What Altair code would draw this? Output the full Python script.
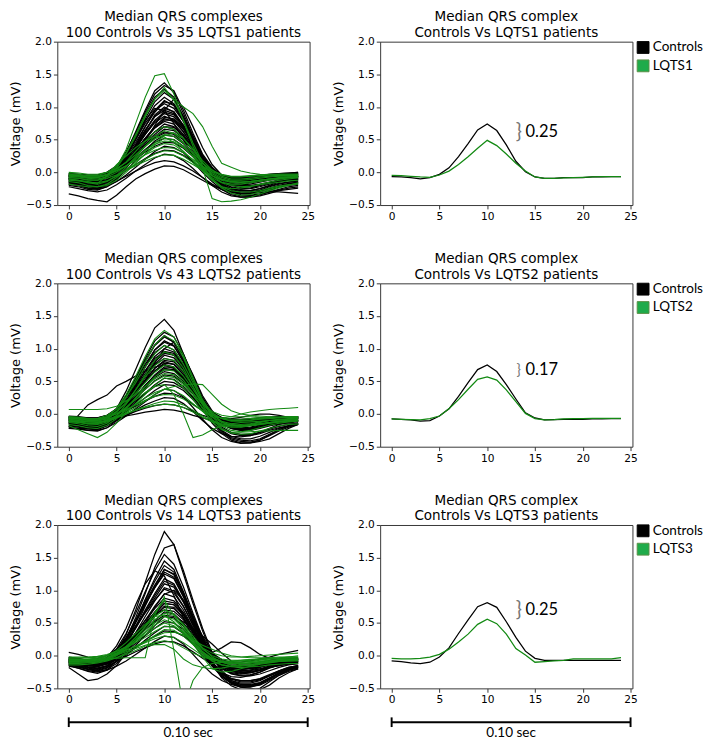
import altair as alt
import pandas as pd

# ---------------- data ----------------
x_vals = list(range(25))
x_ticks = [0, 5, 10, 15, 20, 25]
y_ticks = [-0.5, 0.0, 0.5, 1.0, 1.5, 2.0]

subtypes = ["LQTS1", "LQTS2", "LQTS3"]
n_controls = 100
n_patients = [35, 43, 14]
gap_labels = ["0.25", "0.17", "0.25"]
gap_mid_y = [0.61, 0.67, 0.69]
gap_x = [13.3, 13.3, 13.3]
scale_bar = [0, 25]
scale_label = "0.10 sec"

# individual median complexes, controls (LQTS1 comparison)
ctrl_lqts1 = [
    [-0.10,-0.12,-0.15,-0.14,-0.08,0.05,0.30,0.62,0.95,1.25,1.37,1.22,0.90,0.55,0.22,0.02,-0.08,-0.12,-0.12,-0.10,-0.08,-0.07,-0.06,-0.05,-0.05],
    [-0.05,-0.07,-0.10,-0.10,-0.05,0.08,0.32,0.60,0.92,1.20,1.33,1.25,0.95,0.60,0.28,0.08,-0.05,-0.10,-0.12,-0.12,-0.10,-0.08,-0.06,-0.04,-0.02],
    [-0.15,-0.18,-0.22,-0.22,-0.15,0.00,0.25,0.55,0.88,1.15,1.27,1.15,0.85,0.50,0.18,-0.05,-0.18,-0.25,-0.28,-0.28,-0.25,-0.20,-0.15,-0.12,-0.10],
    [-0.08,-0.10,-0.12,-0.12,-0.06,0.06,0.25,0.50,0.78,1.02,1.15,1.05,0.80,0.50,0.22,0.04,-0.08,-0.14,-0.16,-0.15,-0.12,-0.10,-0.08,-0.07,-0.06],
    [-0.12,-0.14,-0.18,-0.18,-0.12,-0.02,0.18,0.42,0.70,0.95,1.10,1.02,0.78,0.48,0.18,-0.02,-0.15,-0.22,-0.25,-0.24,-0.20,-0.16,-0.12,-0.10,-0.08],
    [-0.02,-0.03,-0.05,-0.05,0.00,0.10,0.28,0.50,0.75,0.95,1.05,0.98,0.78,0.50,0.24,0.06,-0.04,-0.08,-0.08,-0.07,-0.05,-0.03,-0.02,-0.01,0.00],
    [-0.18,-0.20,-0.24,-0.25,-0.20,-0.08,0.10,0.35,0.62,0.88,1.00,0.92,0.70,0.40,0.12,-0.08,-0.22,-0.30,-0.34,-0.35,-0.33,-0.28,-0.22,-0.18,-0.15],
    [-0.06,-0.08,-0.10,-0.10,-0.05,0.05,0.22,0.42,0.65,0.85,0.95,0.90,0.72,0.48,0.22,0.04,-0.06,-0.10,-0.11,-0.10,-0.08,-0.06,-0.05,-0.04,-0.03],
    [-0.10,-0.12,-0.15,-0.16,-0.12,-0.02,0.15,0.36,0.58,0.78,0.90,0.85,0.68,0.45,0.20,0.00,-0.12,-0.18,-0.20,-0.20,-0.18,-0.15,-0.12,-0.10,-0.09],
    [-0.04,-0.05,-0.08,-0.08,-0.03,0.06,0.20,0.38,0.58,0.76,0.86,0.80,0.62,0.40,0.18,0.02,-0.06,-0.10,-0.10,-0.09,-0.07,-0.05,-0.04,-0.03,-0.02],
    [-0.14,-0.16,-0.20,-0.20,-0.15,-0.05,0.12,0.32,0.52,0.70,0.82,0.78,0.62,0.40,0.16,-0.04,-0.18,-0.26,-0.30,-0.30,-0.27,-0.22,-0.18,-0.15,-0.13],
    [-0.08,-0.09,-0.12,-0.12,-0.08,0.02,0.16,0.34,0.52,0.68,0.78,0.74,0.58,0.38,0.16,0.00,-0.10,-0.15,-0.16,-0.15,-0.13,-0.10,-0.08,-0.07,-0.06],
    [-0.20,-0.22,-0.26,-0.27,-0.22,-0.10,0.06,0.25,0.45,0.62,0.74,0.70,0.55,0.34,0.12,-0.06,-0.20,-0.28,-0.32,-0.33,-0.30,-0.26,-0.22,-0.18,-0.16],
    [-0.03,-0.04,-0.06,-0.06,-0.02,0.06,0.18,0.32,0.48,0.62,0.70,0.66,0.52,0.34,0.15,0.03,-0.04,-0.07,-0.08,-0.07,-0.05,-0.04,-0.03,-0.02,-0.02],
    [-0.12,-0.13,-0.16,-0.16,-0.12,-0.04,0.08,0.24,0.40,0.55,0.66,0.64,0.52,0.34,0.14,-0.02,-0.14,-0.20,-0.23,-0.22,-0.20,-0.17,-0.14,-0.12,-0.11],
    [-0.06,-0.07,-0.09,-0.09,-0.05,0.03,0.14,0.28,0.42,0.55,0.62,0.58,0.46,0.30,0.12,0.00,-0.08,-0.12,-0.13,-0.12,-0.10,-0.08,-0.06,-0.05,-0.05],
    [-0.16,-0.18,-0.22,-0.24,-0.20,-0.10,0.03,0.18,0.34,0.48,0.57,0.55,0.44,0.28,0.08,-0.10,-0.24,-0.32,-0.36,-0.36,-0.34,-0.30,-0.26,-0.22,-0.20],
    [-0.09,-0.10,-0.12,-0.12,-0.08,0.00,0.10,0.22,0.35,0.46,0.52,0.50,0.40,0.26,0.10,-0.02,-0.10,-0.14,-0.15,-0.14,-0.12,-0.10,-0.09,-0.08,-0.07],
    [-0.05,-0.06,-0.08,-0.08,-0.05,0.02,0.10,0.20,0.31,0.40,0.46,0.45,0.37,0.24,0.10,0.00,-0.06,-0.09,-0.10,-0.09,-0.08,-0.06,-0.05,-0.04,-0.04],
    [-0.18,-0.20,-0.24,-0.26,-0.22,-0.14,-0.04,0.08,0.20,0.32,0.40,0.38,0.30,0.16,0.00,-0.14,-0.26,-0.34,-0.38,-0.38,-0.36,-0.32,-0.28,-0.26,-0.24],
    [-0.10,-0.11,-0.13,-0.14,-0.11,-0.05,0.03,0.12,0.21,0.29,0.34,0.33,0.26,0.16,0.04,-0.06,-0.14,-0.19,-0.21,-0.21,-0.19,-0.16,-0.14,-0.12,-0.11],
    [-0.22,-0.25,-0.28,-0.30,-0.27,-0.19,-0.09,0.02,0.12,0.22,0.28,0.26,0.18,0.06,-0.08,-0.20,-0.30,-0.36,-0.38,-0.37,-0.34,-0.30,-0.27,-0.24,-0.22],
    [-0.14,-0.16,-0.20,-0.22,-0.20,-0.14,-0.06,0.02,0.09,0.15,0.18,0.16,0.10,0.02,-0.08,-0.18,-0.26,-0.30,-0.32,-0.31,-0.28,-0.25,-0.22,-0.20,-0.18],
    [-0.33,-0.36,-0.40,-0.43,-0.45,-0.35,-0.22,-0.10,-0.02,0.05,0.10,0.09,0.04,-0.04,-0.12,-0.20,-0.26,-0.30,-0.32,-0.32,-0.31,-0.30,-0.30,-0.31,-0.32],
    [-0.05,-0.06,-0.08,-0.08,-0.05,0.02,0.12,0.28,0.48,0.72,0.95,1.12,1.00,0.70,0.38,0.12,-0.04,-0.12,-0.15,-0.14,-0.12,-0.10,-0.08,-0.06,-0.05],
    [-0.10,-0.11,-0.13,-0.12,-0.06,0.08,0.30,0.55,0.80,0.98,0.95,0.75,0.50,0.25,0.05,-0.08,-0.15,-0.18,-0.18,-0.16,-0.13,-0.10,-0.08,-0.07,-0.06],
    [-0.07,-0.08,-0.10,-0.10,-0.05,0.06,0.26,0.52,0.82,1.08,1.22,1.12,0.85,0.52,0.20,0.00,-0.10,-0.15,-0.16,-0.14,-0.12,-0.10,-0.08,-0.07,-0.06],
    [-0.11,-0.13,-0.16,-0.17,-0.12,-0.01,0.18,0.40,0.64,0.86,0.98,0.93,0.72,0.46,0.18,-0.03,-0.16,-0.23,-0.26,-0.25,-0.22,-0.18,-0.14,-0.12,-0.10],
    [-0.04,-0.05,-0.07,-0.07,-0.03,0.06,0.20,0.40,0.60,0.80,0.92,0.88,0.70,0.46,0.20,0.03,-0.06,-0.10,-0.10,-0.09,-0.07,-0.05,-0.04,-0.03,-0.03],
    [-0.09,-0.10,-0.13,-0.13,-0.09,0.01,0.15,0.33,0.52,0.70,0.84,0.82,0.66,0.44,0.20,0.01,-0.11,-0.17,-0.19,-0.18,-0.15,-0.12,-0.10,-0.09,-0.08],
    [-0.13,-0.15,-0.18,-0.19,-0.15,-0.06,0.08,0.24,0.42,0.58,0.70,0.69,0.56,0.36,0.14,-0.05,-0.18,-0.25,-0.28,-0.28,-0.25,-0.21,-0.17,-0.15,-0.13],
    [-0.06,-0.07,-0.09,-0.09,-0.06,0.02,0.12,0.26,0.40,0.53,0.60,0.60,0.50,0.34,0.15,0.01,-0.08,-0.12,-0.13,-0.12,-0.10,-0.08,-0.07,-0.06,-0.06],
    [-0.02,-0.03,-0.04,-0.04,0.00,0.08,0.24,0.46,0.70,0.92,1.08,1.04,0.84,0.56,0.26,0.06,-0.04,-0.07,-0.07,-0.06,-0.04,-0.03,-0.02,-0.01,0.00],
    [-0.16,-0.18,-0.21,-0.22,-0.17,-0.06,0.10,0.30,0.50,0.68,0.80,0.80,0.66,0.44,0.18,-0.04,-0.20,-0.28,-0.32,-0.32,-0.29,-0.24,-0.20,-0.17,-0.15],
]
pat_lqts1 = [
    [-0.05,-0.06,-0.08,-0.08,-0.04,0.08,0.35,0.75,1.15,1.48,1.51,1.20,0.78,0.40,0.10,-0.10,-0.22,-0.25,-0.24,-0.22,-0.18,-0.15,-0.12,-0.10,-0.08],
    [-0.02,-0.03,-0.05,-0.05,0.00,0.10,0.30,0.58,0.88,1.12,1.25,1.12,1.00,0.90,0.70,0.40,0.14,0.08,0.02,-0.01,-0.03,-0.04,-0.05,-0.06,-0.06],
    [-0.08,-0.09,-0.12,-0.12,-0.06,0.06,0.28,0.55,0.85,1.12,1.30,1.10,0.80,0.45,0.15,-0.05,-0.15,-0.18,-0.18,-0.16,-0.14,-0.12,-0.10,-0.08,-0.07],
    [-0.05,-0.06,-0.08,-0.08,-0.04,0.04,0.16,0.32,0.48,0.62,0.70,0.66,0.52,0.34,0.14,0.00,-0.08,-0.12,-0.12,-0.11,-0.09,-0.07,-0.06,-0.05,-0.04],
    [-0.10,-0.12,-0.16,-0.18,-0.14,-0.05,0.08,0.24,0.40,0.55,0.64,0.60,0.46,0.28,0.08,-0.10,-0.24,-0.32,-0.35,-0.34,-0.30,-0.26,-0.22,-0.19,-0.17],
    [0.00,-0.01,-0.03,-0.03,0.00,0.06,0.15,0.27,0.40,0.51,0.58,0.55,0.45,0.30,0.14,0.03,-0.03,-0.06,-0.06,-0.05,-0.04,-0.03,-0.03,-0.03,-0.03],
    [-0.14,-0.16,-0.20,-0.22,-0.20,-0.12,0.00,0.14,0.28,0.42,0.52,0.50,0.40,0.24,0.06,-0.40,-0.45,-0.44,-0.42,-0.38,-0.33,-0.28,-0.24,-0.20,-0.16],
    [-0.06,-0.07,-0.09,-0.10,-0.07,0.00,0.10,0.22,0.34,0.43,0.48,0.47,0.38,0.25,0.10,-0.02,-0.10,-0.14,-0.15,-0.14,-0.12,-0.10,-0.08,-0.07,-0.06],
    [-0.18,-0.20,-0.22,-0.22,-0.18,-0.08,0.04,0.16,0.28,0.38,0.44,0.42,0.32,0.18,0.02,-0.12,-0.22,-0.28,-0.30,-0.30,-0.28,-0.24,-0.21,-0.19,-0.18],
    [-0.03,-0.04,-0.06,-0.06,-0.03,0.03,0.10,0.18,0.27,0.34,0.38,0.37,0.30,0.20,0.09,0.01,-0.04,-0.07,-0.07,-0.06,-0.05,-0.04,-0.03,-0.03,-0.03],
    [-0.12,-0.13,-0.15,-0.16,-0.13,-0.06,0.03,0.12,0.20,0.28,0.33,0.32,0.25,0.15,0.03,-0.08,-0.16,-0.20,-0.22,-0.21,-0.19,-0.17,-0.15,-0.13,-0.12],
    [-0.08,-0.09,-0.11,-0.12,-0.09,-0.04,0.03,0.10,0.17,0.23,0.27,0.26,0.20,0.12,0.03,-0.05,-0.11,-0.14,-0.15,-0.14,-0.12,-0.10,-0.09,-0.08,-0.08],
    [-0.10,-0.12,-0.14,-0.17,-0.05,0.12,0.25,0.38,0.48,0.55,0.54,0.46,0.32,0.18,0.05,-0.05,-0.12,-0.15,-0.15,-0.14,-0.12,-0.10,-0.09,-0.08,-0.07],
    [-0.04,-0.05,-0.07,-0.07,-0.04,0.02,0.10,0.20,0.32,0.45,0.56,0.60,0.52,0.36,0.18,0.04,-0.06,-0.10,-0.10,-0.09,-0.07,-0.06,-0.05,-0.05,-0.05],
]

ctrl_lqts2 = [
    [-0.08,-0.10,-0.12,-0.12,-0.06,0.08,0.35,0.68,1.02,1.32,1.45,1.28,0.92,0.55,0.22,0.00,-0.12,-0.18,-0.19,-0.17,-0.14,-0.11,-0.09,-0.07,-0.06],
    [-0.12,-0.14,-0.17,-0.17,-0.10,0.04,0.27,0.55,0.85,1.12,1.25,1.18,0.92,0.58,0.25,0.02,-0.14,-0.22,-0.25,-0.24,-0.20,-0.16,-0.13,-0.11,-0.10],
    [-0.05,-0.06,-0.08,-0.08,-0.03,0.08,0.28,0.54,0.82,1.06,1.20,1.10,0.82,0.50,0.20,0.02,-0.08,-0.12,-0.13,-0.12,-0.10,-0.08,-0.06,-0.05,-0.05],
    [-0.15,-0.17,-0.20,-0.21,-0.15,-0.02,0.18,0.44,0.72,0.98,1.12,1.05,0.80,0.48,0.15,-0.08,-0.25,-0.34,-0.38,-0.38,-0.34,-0.28,-0.22,-0.18,-0.15],
    [-0.08,-0.09,-0.11,-0.11,-0.06,0.05,0.24,0.47,0.72,0.94,1.05,0.98,0.76,0.48,0.20,0.02,-0.09,-0.14,-0.15,-0.14,-0.12,-0.10,-0.08,-0.07,-0.06],
    [-0.10,-0.12,-0.15,-0.15,-0.10,0.02,0.20,0.42,0.66,0.88,1.00,0.95,0.75,0.48,0.20,0.00,-0.14,-0.22,-0.25,-0.25,-0.22,-0.18,-0.15,-0.13,-0.12],
    [-0.04,-0.05,-0.07,-0.07,-0.03,0.07,0.24,0.44,0.66,0.85,0.95,0.90,0.70,0.45,0.20,0.03,-0.06,-0.10,-0.10,-0.09,-0.07,-0.06,-0.05,-0.04,-0.04],
    [-0.18,-0.20,-0.23,-0.24,-0.18,-0.06,0.12,0.34,0.56,0.76,0.90,0.86,0.68,0.42,0.14,-0.10,-0.28,-0.38,-0.42,-0.43,-0.40,-0.33,-0.26,-0.20,-0.16],
    [-0.07,-0.08,-0.10,-0.10,-0.06,0.04,0.20,0.38,0.58,0.75,0.85,0.82,0.65,0.42,0.18,0.01,-0.09,-0.13,-0.14,-0.13,-0.11,-0.09,-0.08,-0.07,-0.06],
    [-0.12,-0.14,-0.17,-0.18,-0.13,-0.03,0.13,0.32,0.52,0.70,0.80,0.76,0.60,0.38,0.14,-0.04,-0.16,-0.22,-0.24,-0.23,-0.20,-0.17,-0.14,-0.12,-0.11],
    [-0.03,-0.04,-0.06,-0.06,-0.02,0.06,0.18,0.34,0.50,0.66,0.76,0.72,0.57,0.37,0.16,0.02,-0.05,-0.08,-0.08,-0.07,-0.06,-0.05,-0.04,-0.04,-0.04],
    [-0.20,-0.22,-0.25,-0.26,-0.21,-0.10,0.05,0.22,0.40,0.58,0.70,0.68,0.54,0.32,0.08,-0.14,-0.30,-0.40,-0.44,-0.44,-0.40,-0.32,-0.24,-0.18,-0.14],
    [-0.09,-0.10,-0.12,-0.12,-0.08,0.00,0.12,0.27,0.42,0.56,0.65,0.62,0.50,0.32,0.12,-0.02,-0.11,-0.15,-0.16,-0.15,-0.13,-0.11,-0.09,-0.08,-0.08],
    [-0.06,-0.07,-0.09,-0.09,-0.05,0.02,0.12,0.25,0.38,0.51,0.60,0.58,0.47,0.31,0.13,0.00,-0.08,-0.12,-0.12,-0.11,-0.09,-0.07,-0.06,-0.06,-0.05],
    [-0.20,-0.02,0.14,0.22,0.29,0.43,0.50,0.58,0.66,0.72,0.75,0.70,0.55,0.35,0.14,0.00,-0.08,-0.12,-0.13,-0.12,-0.10,-0.09,-0.08,-0.07,-0.07],
    [-0.14,-0.16,-0.19,-0.20,-0.16,-0.07,0.05,0.18,0.32,0.45,0.55,0.53,0.42,0.26,0.07,-0.10,-0.22,-0.30,-0.33,-0.33,-0.30,-0.25,-0.21,-0.18,-0.16],
    [-0.05,-0.06,-0.08,-0.08,-0.05,0.01,0.10,0.20,0.31,0.42,0.50,0.48,0.39,0.25,0.10,0.00,-0.07,-0.10,-0.11,-0.10,-0.08,-0.07,-0.06,-0.05,-0.05],
    [-0.10,-0.11,-0.13,-0.14,-0.11,-0.05,0.04,0.14,0.25,0.36,0.45,0.44,0.36,0.22,0.06,-0.07,-0.16,-0.21,-0.23,-0.22,-0.20,-0.17,-0.14,-0.12,-0.11],
    [-0.22,-0.23,-0.25,-0.25,-0.21,-0.13,-0.03,0.08,0.19,0.30,0.38,0.36,0.26,0.10,-0.08,-0.24,-0.36,-0.42,-0.45,-0.44,-0.42,-0.38,-0.30,-0.22,-0.16],
    [-0.07,-0.08,-0.10,-0.10,-0.07,-0.02,0.05,0.12,0.20,0.27,0.32,0.31,0.25,0.15,0.05,-0.03,-0.09,-0.12,-0.13,-0.12,-0.11,-0.09,-0.08,-0.07,-0.07],
    [-0.13,-0.15,-0.18,-0.20,-0.17,-0.10,-0.02,0.06,0.14,0.20,0.25,0.24,0.16,0.04,-0.10,-0.22,-0.30,-0.34,-0.35,-0.33,-0.28,-0.22,-0.16,-0.12,-0.10],
    [-0.22,-0.22,-0.22,-0.20,-0.15,-0.08,-0.03,0.00,0.03,0.05,0.07,0.06,0.03,-0.02,-0.06,-0.10,-0.12,-0.14,-0.15,-0.16,-0.16,-0.16,-0.15,-0.15,-0.15],
    [-0.06,-0.07,-0.09,-0.09,-0.06,0.02,0.14,0.30,0.52,0.78,1.00,1.10,0.90,0.60,0.28,0.05,-0.10,-0.18,-0.21,-0.20,-0.17,-0.13,-0.10,-0.08,-0.07],
    [-0.15,-0.16,-0.18,-0.18,-0.14,-0.08,-0.02,0.04,0.09,0.13,0.15,0.14,0.10,0.04,-0.02,-0.06,-0.08,-0.07,-0.05,-0.02,0.00,0.00,-0.02,-0.05,-0.10],
    [-0.09,-0.10,-0.12,-0.12,-0.07,0.05,0.26,0.52,0.80,1.05,1.18,1.10,0.84,0.52,0.20,-0.01,-0.12,-0.17,-0.18,-0.17,-0.14,-0.11,-0.09,-0.08,-0.07],
    [-0.14,-0.15,-0.18,-0.19,-0.14,-0.03,0.15,0.36,0.58,0.80,0.93,0.90,0.70,0.44,0.16,-0.06,-0.20,-0.28,-0.31,-0.31,-0.28,-0.23,-0.19,-0.16,-0.14],
    [-0.05,-0.06,-0.08,-0.08,-0.04,0.05,0.20,0.40,0.62,0.82,0.96,0.93,0.73,0.47,0.20,0.02,-0.07,-0.11,-0.11,-0.10,-0.08,-0.06,-0.05,-0.05,-0.04],
    [-0.10,-0.11,-0.14,-0.14,-0.10,-0.01,0.14,0.32,0.50,0.66,0.78,0.76,0.61,0.39,0.15,-0.03,-0.14,-0.20,-0.22,-0.21,-0.18,-0.15,-0.12,-0.11,-0.10],
    [-0.07,-0.08,-0.10,-0.10,-0.06,0.03,0.17,0.34,0.52,0.70,0.82,0.80,0.64,0.42,0.18,0.01,-0.09,-0.13,-0.14,-0.13,-0.11,-0.09,-0.08,-0.07,-0.06],
    [-0.17,-0.19,-0.22,-0.23,-0.18,-0.08,0.08,0.26,0.44,0.60,0.72,0.71,0.57,0.36,0.12,-0.10,-0.26,-0.36,-0.40,-0.41,-0.38,-0.31,-0.24,-0.18,-0.15],
    [-0.04,-0.05,-0.06,-0.06,-0.02,0.08,0.26,0.50,0.76,0.98,1.10,1.04,0.80,0.50,0.21,0.03,-0.06,-0.09,-0.09,-0.08,-0.06,-0.05,-0.04,-0.04,-0.04],
    [-0.12,-0.13,-0.16,-0.16,-0.12,-0.03,0.11,0.27,0.44,0.58,0.68,0.67,0.54,0.35,0.13,-0.04,-0.15,-0.21,-0.23,-0.22,-0.20,-0.17,-0.14,-0.12,-0.11],
]
pat_lqts2 = [
    [-0.06,-0.07,-0.09,-0.09,-0.04,0.08,0.30,0.58,0.88,1.15,1.28,1.18,0.90,0.56,0.22,0.00,-0.12,-0.17,-0.18,-0.16,-0.13,-0.10,-0.08,-0.07,-0.06],
    [-0.10,-0.12,-0.15,-0.15,-0.09,0.04,0.25,0.52,0.80,1.06,1.20,1.12,0.86,0.52,0.18,-0.04,-0.18,-0.25,-0.27,-0.25,-0.21,-0.17,-0.14,-0.12,-0.11],
    [-0.04,-0.05,-0.07,-0.07,-0.02,0.08,0.26,0.48,0.72,0.92,1.05,0.98,0.76,0.48,0.20,0.02,-0.07,-0.10,-0.10,-0.09,-0.07,-0.06,-0.05,-0.04,-0.04],
    [-0.13,-0.15,-0.18,-0.19,-0.14,-0.03,0.15,0.37,0.60,0.82,0.95,0.90,0.70,0.42,0.14,-0.08,-0.22,-0.29,-0.31,-0.30,-0.26,-0.22,-0.18,-0.16,-0.15],
    [-0.08,-0.09,-0.11,-0.11,-0.07,0.03,0.18,0.37,0.57,0.74,0.85,0.82,0.65,0.42,0.17,-0.01,-0.11,-0.15,-0.16,-0.15,-0.12,-0.10,-0.09,-0.08,-0.07],
    [-0.05,-0.06,-0.08,-0.08,-0.04,0.04,0.16,0.32,0.48,0.64,0.75,0.72,0.58,0.38,0.16,0.01,-0.07,-0.11,-0.11,-0.10,-0.08,-0.07,-0.06,-0.05,-0.05],
    [-0.16,-0.18,-0.21,-0.22,-0.17,-0.07,0.08,0.25,0.42,0.57,0.68,0.66,0.52,0.32,0.08,-0.12,-0.24,-0.28,-0.28,-0.27,-0.26,-0.26,-0.25,-0.25,-0.25],
    [0.07,0.07,0.07,0.07,0.08,0.12,0.20,0.30,0.42,0.54,0.62,0.60,0.48,0.32,0.15,0.04,-0.02,-0.04,-0.04,-0.04,-0.05,-0.05,-0.05,-0.05,-0.05],
    [-0.18,-0.24,-0.30,-0.36,-0.28,-0.14,0.02,0.16,0.30,0.44,0.55,0.52,0.40,0.22,0.04,-0.10,-0.18,-0.20,-0.20,-0.18,-0.16,-0.14,-0.12,-0.11,-0.10],
    [-0.10,-0.11,-0.12,-0.12,-0.10,-0.05,0.02,0.10,0.20,0.30,0.38,0.42,0.44,0.46,0.45,0.30,0.15,0.05,0.00,-0.02,-0.03,-0.04,-0.05,-0.05,-0.05],
    [-0.06,-0.07,-0.09,-0.09,-0.06,0.01,0.10,0.22,0.33,0.42,0.45,0.30,0.00,-0.36,-0.32,-0.24,-0.18,-0.15,-0.13,-0.12,-0.11,-0.10,-0.09,-0.08,-0.08],
    [-0.12,-0.13,-0.15,-0.16,-0.12,-0.05,0.05,0.15,0.25,0.33,0.38,0.36,0.28,0.16,0.04,-0.04,-0.06,-0.04,0.00,0.03,0.05,0.07,0.08,0.09,0.10],
    [-0.04,-0.05,-0.07,-0.07,-0.05,0.00,0.07,0.14,0.21,0.27,0.30,0.29,0.23,0.14,0.05,-0.02,-0.06,-0.08,-0.08,-0.07,-0.06,-0.05,-0.05,-0.04,-0.04],
    [-0.09,-0.10,-0.12,-0.13,-0.11,-0.06,0.00,0.06,0.11,0.16,0.20,0.19,0.14,0.06,-0.03,-0.10,-0.15,-0.18,-0.19,-0.18,-0.16,-0.14,-0.12,-0.11,-0.10],
    [-0.07,-0.08,-0.10,-0.10,-0.08,-0.04,0.01,0.06,0.10,0.13,0.15,0.14,0.10,0.03,-0.05,-0.12,-0.16,-0.18,-0.18,-0.17,-0.15,-0.13,-0.11,-0.10,-0.09],
    [-0.11,-0.12,-0.14,-0.14,-0.10,-0.02,0.10,0.24,0.38,0.50,0.58,0.56,0.45,0.28,0.10,-0.04,-0.13,-0.17,-0.18,-0.17,-0.15,-0.13,-0.11,-0.10,-0.09],
]

ctrl_lqts3 = [
    [-0.05,-0.08,-0.12,-0.14,-0.10,0.05,0.32,0.70,1.12,1.55,1.90,1.70,1.25,0.80,0.38,0.02,-0.25,-0.40,-0.46,-0.46,-0.42,-0.34,-0.26,-0.20,-0.16],
    [-0.10,-0.12,-0.15,-0.16,-0.11,0.02,0.25,0.58,0.95,1.35,1.65,1.70,1.30,0.85,0.42,0.05,-0.22,-0.38,-0.44,-0.45,-0.42,-0.36,-0.28,-0.22,-0.18],
    [-0.02,-0.04,-0.07,-0.08,-0.03,0.10,0.34,0.65,0.98,1.30,1.55,1.40,1.05,0.65,0.28,0.00,-0.18,-0.26,-0.28,-0.26,-0.22,-0.16,-0.11,-0.07,-0.05],
    [-0.12,-0.15,-0.19,-0.21,-0.16,-0.02,0.22,0.52,0.86,1.18,1.45,1.32,0.98,0.60,0.22,-0.08,-0.30,-0.42,-0.48,-0.48,-0.44,-0.36,-0.26,-0.19,-0.15],
    [-0.07,-0.09,-0.12,-0.13,-0.08,0.05,0.26,0.54,0.85,1.14,1.38,1.28,0.96,0.60,0.26,0.00,-0.16,-0.24,-0.27,-0.26,-0.22,-0.17,-0.13,-0.10,-0.08],
    [-0.15,-0.19,-0.24,-0.27,-0.22,-0.08,0.15,0.44,0.76,1.06,1.32,1.24,0.94,0.56,0.18,-0.12,-0.34,-0.46,-0.52,-0.54,-0.50,-0.40,-0.30,-0.22,-0.18],
    [-0.04,-0.06,-0.09,-0.10,-0.05,0.07,0.27,0.52,0.80,1.04,1.25,1.18,0.90,0.56,0.24,0.02,-0.12,-0.18,-0.20,-0.18,-0.15,-0.11,-0.08,-0.06,-0.05],
    [-0.10,-0.13,-0.17,-0.19,-0.15,-0.03,0.17,0.42,0.70,0.95,1.18,1.10,0.84,0.50,0.16,-0.10,-0.28,-0.38,-0.42,-0.42,-0.38,-0.31,-0.24,-0.19,-0.16],
    [-0.08,-0.10,-0.13,-0.14,-0.09,0.03,0.20,0.42,0.66,0.88,1.10,1.05,0.82,0.52,0.22,0.00,-0.14,-0.21,-0.23,-0.22,-0.18,-0.14,-0.11,-0.09,-0.08],
    [0.05,0.02,-0.02,-0.04,0.00,0.10,0.26,0.46,0.66,0.85,1.02,0.96,0.75,0.48,0.22,0.04,-0.06,-0.10,-0.10,-0.08,-0.05,-0.02,0.02,0.05,0.08],
    [-0.18,-0.28,-0.38,-0.36,-0.28,-0.15,0.04,0.26,0.50,0.74,0.95,0.90,0.70,0.42,0.12,-0.14,-0.32,-0.42,-0.46,-0.46,-0.43,-0.36,-0.28,-0.22,-0.19],
    [-0.06,-0.08,-0.11,-0.12,-0.08,0.02,0.17,0.35,0.54,0.72,0.88,0.84,0.66,0.42,0.18,0.00,-0.12,-0.18,-0.20,-0.19,-0.16,-0.12,-0.09,-0.07,-0.06],
    [-0.13,-0.16,-0.20,-0.22,-0.18,-0.08,0.08,0.26,0.45,0.63,0.80,0.78,0.62,0.38,0.12,-0.10,-0.26,-0.35,-0.38,-0.38,-0.35,-0.29,-0.23,-0.18,-0.15],
    [-0.03,-0.05,-0.07,-0.08,-0.04,0.05,0.18,0.33,0.48,0.62,0.74,0.72,0.58,0.38,0.16,0.01,-0.08,-0.12,-0.13,-0.12,-0.10,-0.07,-0.05,-0.04,-0.03],
    [-0.10,-0.12,-0.15,-0.16,-0.12,-0.03,0.10,0.25,0.40,0.54,0.67,0.64,0.50,0.32,0.14,0.05,0.12,0.21,0.20,0.12,0.02,-0.04,-0.08,-0.10,-0.11],
    [-0.16,-0.19,-0.23,-0.25,-0.21,-0.12,0.01,0.16,0.31,0.46,0.60,0.58,0.45,0.26,0.04,-0.16,-0.32,-0.42,-0.46,-0.47,-0.45,-0.38,-0.30,-0.24,-0.20],
    [-0.08,-0.09,-0.12,-0.13,-0.10,-0.03,0.07,0.19,0.31,0.42,0.52,0.50,0.40,0.24,0.08,-0.05,-0.14,-0.19,-0.20,-0.19,-0.17,-0.14,-0.11,-0.09,-0.08],
    [-0.12,-0.14,-0.17,-0.19,-0.16,-0.09,0.01,0.12,0.24,0.35,0.45,0.44,0.34,0.18,0.00,-0.16,-0.28,-0.35,-0.38,-0.38,-0.36,-0.31,-0.25,-0.20,-0.17],
    [-0.05,-0.06,-0.08,-0.09,-0.07,-0.02,0.05,0.13,0.22,0.30,0.38,0.37,0.30,0.19,0.07,-0.03,-0.10,-0.14,-0.15,-0.14,-0.12,-0.10,-0.08,-0.06,-0.05],
    [-0.14,-0.17,-0.21,-0.24,-0.22,-0.16,-0.08,0.02,0.12,0.22,0.30,0.28,0.18,0.02,-0.14,-0.28,-0.38,-0.44,-0.48,-0.50,-0.52,-0.45,-0.34,-0.26,-0.20],
    [-0.09,-0.11,-0.14,-0.15,-0.11,-0.01,0.14,0.32,0.54,0.76,0.94,1.00,0.85,0.58,0.30,0.06,-0.12,-0.22,-0.26,-0.26,-0.23,-0.18,-0.14,-0.11,-0.09],
    [-0.06,-0.08,-0.10,-0.10,-0.03,0.15,0.42,0.78,1.10,1.30,1.22,0.92,0.58,0.28,0.04,-0.14,-0.26,-0.32,-0.33,-0.30,-0.25,-0.18,-0.12,-0.08,-0.06],
    [-0.10,-0.11,-0.13,-0.14,-0.12,-0.07,-0.01,0.06,0.12,0.18,0.22,0.21,0.15,0.06,-0.04,-0.13,-0.20,-0.24,-0.25,-0.24,-0.22,-0.18,-0.15,-0.13,-0.12],
    [-0.07,-0.09,-0.12,-0.13,-0.09,0.00,0.12,0.26,0.40,0.52,0.62,0.60,0.52,0.42,0.30,0.18,0.04,-0.08,-0.16,-0.20,-0.20,-0.18,-0.15,-0.12,-0.10],
    [-0.08,-0.10,-0.13,-0.14,-0.09,0.04,0.24,0.50,0.78,1.04,1.28,1.20,0.91,0.57,0.24,-0.02,-0.18,-0.27,-0.30,-0.29,-0.25,-0.19,-0.14,-0.11,-0.09],
    [-0.12,-0.14,-0.18,-0.20,-0.16,-0.05,0.13,0.35,0.60,0.84,1.04,0.99,0.76,0.46,0.15,-0.10,-0.27,-0.36,-0.40,-0.40,-0.37,-0.30,-0.23,-0.18,-0.15],
    [-0.05,-0.07,-0.10,-0.11,-0.06,0.05,0.22,0.44,0.68,0.92,1.14,1.08,0.83,0.52,0.22,0.00,-0.13,-0.19,-0.21,-0.20,-0.17,-0.13,-0.10,-0.07,-0.06],
    [-0.10,-0.12,-0.15,-0.17,-0.13,-0.04,0.11,0.29,0.48,0.67,0.84,0.81,0.64,0.40,0.15,-0.06,-0.20,-0.28,-0.31,-0.31,-0.28,-0.23,-0.18,-0.14,-0.12],
    [-0.06,-0.08,-0.10,-0.11,-0.07,0.02,0.16,0.32,0.50,0.66,0.80,0.78,0.62,0.40,0.17,0.00,-0.11,-0.16,-0.17,-0.16,-0.14,-0.11,-0.08,-0.06,-0.05],
    [-0.14,-0.17,-0.21,-0.23,-0.19,-0.09,0.06,0.24,0.42,0.60,0.76,0.74,0.58,0.34,0.08,-0.14,-0.30,-0.40,-0.44,-0.44,-0.41,-0.34,-0.27,-0.21,-0.17],
    [-0.03,-0.05,-0.08,-0.09,-0.04,0.08,0.28,0.54,0.82,1.08,1.32,1.25,0.95,0.60,0.26,0.02,-0.12,-0.19,-0.21,-0.19,-0.16,-0.12,-0.08,-0.05,-0.04],
    [-0.09,-0.11,-0.14,-0.15,-0.11,-0.02,0.13,0.30,0.48,0.64,0.70,0.68,0.55,0.36,0.14,-0.04,-0.16,-0.22,-0.24,-0.23,-0.20,-0.16,-0.12,-0.10,-0.09],
]
pat_lqts3 = [
    [-0.08,-0.08,-0.07,-0.06,-0.05,-0.04,-0.03,-0.03,-0.03,0.62,0.90,0.08,-0.80,-0.38,-0.18,-0.12,-0.10,-0.09,-0.08,-0.07,-0.06,-0.05,-0.05,-0.04,-0.04],
    [-0.10,-0.10,-0.09,-0.08,-0.06,-0.03,0.02,0.08,0.15,0.17,0.17,0.10,-0.05,-0.14,-0.18,-0.20,-0.19,-0.16,-0.13,-0.11,-0.09,-0.08,-0.07,-0.06,-0.05],
    [-0.05,-0.06,-0.06,-0.05,-0.03,0.01,0.06,0.11,0.16,0.20,0.23,0.20,0.12,0.04,-0.02,-0.06,-0.08,-0.08,-0.07,-0.06,-0.05,-0.04,-0.04,-0.03,-0.03],
    [-0.06,-0.07,-0.08,-0.08,-0.05,0.03,0.14,0.28,0.45,0.66,0.85,0.62,0.40,0.22,0.06,-0.05,-0.10,-0.12,-0.12,-0.11,-0.10,-0.09,-0.08,-0.07,-0.06],
    [-0.10,-0.10,-0.10,-0.09,-0.06,0.02,0.12,0.25,0.40,0.55,0.65,0.62,0.48,0.30,0.12,-0.02,-0.10,-0.14,-0.15,-0.14,-0.12,-0.10,-0.08,-0.07,-0.06],
    [-0.04,-0.04,-0.03,-0.02,0.00,0.06,0.14,0.24,0.36,0.50,0.60,0.56,0.42,0.26,0.10,0.00,-0.05,-0.07,-0.07,-0.06,-0.05,-0.04,-0.03,-0.02,-0.02],
    [-0.12,-0.12,-0.11,-0.10,-0.07,0.00,0.10,0.22,0.35,0.47,0.55,0.50,0.36,0.18,-0.02,-0.20,-0.25,-0.24,-0.20,-0.16,-0.13,-0.11,-0.09,-0.08,-0.07],
    [-0.08,-0.08,-0.07,-0.06,-0.03,0.04,0.12,0.22,0.32,0.42,0.50,0.46,0.34,0.20,0.06,-0.04,-0.08,-0.10,-0.10,-0.09,-0.07,-0.05,-0.04,-0.02,0.00],
    [-0.02,-0.02,-0.02,-0.01,0.02,0.07,0.13,0.20,0.28,0.37,0.45,0.44,0.36,0.24,0.12,0.04,0.00,-0.02,-0.02,-0.01,0.00,0.01,0.02,0.03,0.04],
    [-0.14,-0.14,-0.13,-0.11,-0.08,-0.03,0.04,0.12,0.21,0.31,0.40,0.39,0.30,0.17,0.03,-0.08,-0.14,-0.17,-0.18,-0.17,-0.16,-0.14,-0.13,-0.12,-0.12],
    [-0.06,-0.06,-0.05,-0.04,-0.02,0.02,0.08,0.15,0.22,0.29,0.35,0.36,0.32,0.24,0.16,0.10,0.04,0.00,-0.02,-0.03,-0.03,-0.03,-0.02,-0.02,-0.02],
    [-0.09,-0.09,-0.08,-0.07,-0.04,0.03,0.14,0.28,0.44,0.60,0.70,0.64,0.46,0.26,0.06,-0.08,-0.14,-0.16,-0.16,-0.14,-0.12,-0.10,-0.09,-0.08,-0.08],
    [-0.03,-0.03,-0.03,-0.02,0.00,0.04,0.09,0.14,0.20,0.26,0.30,0.28,0.20,0.10,0.00,-0.06,-0.09,-0.10,-0.10,-0.09,-0.08,-0.07,-0.06,-0.05,-0.05],
    [-0.07,-0.07,-0.06,-0.04,0.00,0.08,0.20,0.34,0.48,0.60,0.62,0.52,0.36,0.20,0.05,-0.05,-0.10,-0.12,-0.12,-0.11,-0.10,-0.09,-0.08,-0.07,-0.07],
]

# group medians
med_ctrl = [
    [-0.065,-0.07,-0.08,-0.10,-0.08,-0.03,0.07,0.24,0.44,0.65,0.74,0.64,0.42,0.17,0.01,-0.07,-0.09,-0.09,-0.08,-0.08,-0.08,-0.07,-0.07,-0.065,-0.065],
    [-0.075,-0.08,-0.09,-0.11,-0.10,-0.03,0.08,0.27,0.48,0.68,0.75,0.65,0.45,0.23,0.02,-0.06,-0.09,-0.085,-0.08,-0.08,-0.08,-0.075,-0.075,-0.07,-0.07],
    [-0.08,-0.09,-0.11,-0.12,-0.10,-0.02,0.12,0.34,0.55,0.75,0.81,0.74,0.52,0.28,0.07,-0.04,-0.07,-0.07,-0.07,-0.07,-0.07,-0.07,-0.07,-0.07,-0.07],
]
med_pat = [
    [-0.045,-0.05,-0.06,-0.07,-0.075,-0.04,0.02,0.12,0.24,0.37,0.49,0.41,0.28,0.14,0.02,-0.07,-0.09,-0.09,-0.085,-0.08,-0.075,-0.07,-0.065,-0.065,-0.065],
    [-0.075,-0.08,-0.085,-0.09,-0.07,-0.03,0.08,0.22,0.38,0.53,0.57,0.52,0.37,0.19,0.01,-0.07,-0.09,-0.085,-0.075,-0.07,-0.07,-0.065,-0.065,-0.065,-0.065],
    [-0.04,-0.05,-0.05,-0.04,-0.02,0.02,0.10,0.21,0.33,0.48,0.56,0.49,0.33,0.11,0.01,-0.10,-0.09,-0.08,-0.07,-0.05,-0.05,-0.05,-0.05,-0.05,-0.03],
]

ctrl_sets = [ctrl_lqts1, ctrl_lqts2, ctrl_lqts3]
pat_sets = [pat_lqts1, pat_lqts2, pat_lqts3]

# ---------------- style ----------------
W = 261
H = 169
GREEN = "#138a13"
LEGEND_GREEN = "#1fab4a"
LEGEND_GREEN_EDGE = "#5b8f45"
AXFONT = "DejaVu Sans"
NOTEFONT = "Lato"
brace_size = [21, 15, 21]

xs = alt.Scale(domain=[-1.2, 25.2], nice=False, zero=False)
ys = alt.Scale(domain=[-0.5, 2.0], nice=False, zero=False)
X = alt.X("x:Q", scale=xs, axis=alt.Axis(values=x_ticks, title=None, format="d"))
Y = alt.Y("y:Q", scale=ys, axis=alt.Axis(values=y_ticks, format=".1f", title="Voltage (mV)"))


def long_df(lines, prefix):
    rows = []
    for i, ys_ in enumerate(lines):
        for xv, yv in zip(x_vals, ys_):
            rows.append({"id": f"{prefix}{i}", "x": xv, "y": yv})
    return pd.DataFrame(rows)


def scale_bar_layers():
    bar_df = pd.DataFrame({"x": [scale_bar[0]], "x2": [scale_bar[1]]})
    caps_df = pd.DataFrame({"x": scale_bar})
    lab_df = pd.DataFrame({"x": [(scale_bar[0] + scale_bar[1]) / 2], "t": [scale_label]})
    bar = alt.Chart(bar_df).mark_rule(color="black", strokeWidth=2).encode(
        x=X, x2="x2:Q", y=alt.value(H + 35))
    caps = alt.Chart(caps_df).mark_rule(color="black", strokeWidth=2).encode(
        x=X, y=alt.value(H + 30), y2=alt.value(H + 40))
    lab = alt.Chart(lab_df).mark_text(font=NOTEFONT, fontSize=14, color="black",
                                      baseline="middle").encode(
        x=X, y=alt.value(H + 46), text="t:N")
    return [bar, caps, lab]


def legend_layers(lab):
    names = ["Controls", lab]
    fills = ["black", LEGEND_GREEN]
    edges = ["black", LEGEND_GREEN_EDGE]
    out = []
    for k in range(2):
        d = pd.DataFrame({"t": [names[k]]})
        yk = 6 + 19 * k
        out.append(alt.Chart(d).mark_square(size=150, filled=True, color=fills[k],
                                            stroke=edges[k], strokeWidth=1, opacity=1).encode(
            x=alt.value(W + 11), y=alt.value(yk)))
        out.append(alt.Chart(d).mark_text(font=NOTEFONT, fontSize=14, color="black",
                                          align="left", baseline="middle").encode(
            x=alt.value(W + 21), y=alt.value(yk), text="t:N"))
    return out


def left_panel(i, bottom=False):
    c = alt.Chart(long_df(ctrl_sets[i], "c")).mark_line(
        color="black", strokeWidth=1.3, clip=True).encode(x=X, y=Y, detail="id:N")
    p = alt.Chart(long_df(pat_sets[i], "p")).mark_line(
        color=GREEN, strokeWidth=1.1, clip=True).encode(x=X, y=Y, detail="id:N")
    layers = [c, p] + (scale_bar_layers() if bottom else [])
    return alt.layer(*layers).properties(
        width=W, height=H,
        title=alt.Title(["Median QRS complexes",
                         f"{n_controls} Controls Vs {n_patients[i]} {subtypes[i]} patients"]))


def right_panel(i, bottom=False):
    lab = subtypes[i]
    df = pd.DataFrame({"x": x_vals * 2, "y": med_ctrl[i] + med_pat[i],
                       "group": ["Controls"] * 25 + [lab] * 25})
    lines = alt.Chart(df).mark_line(strokeWidth=1.3, clip=True).encode(
        x=X, y=Y,
        color=alt.Color("group:N",
                        scale=alt.Scale(domain=["Controls", lab], range=["black", GREEN]),
                        legend=None))
    ann = pd.DataFrame({"x": [gap_x[i]], "y": [gap_mid_y[i]], "t": [gap_labels[i]]})
    brace = alt.Chart(ann).mark_text(text="}", font=NOTEFONT, fontSize=brace_size[i],
                                     color="#777", align="center",
                                     baseline="middle").encode(x=X, y=Y)
    txt = alt.Chart(ann).mark_text(font=NOTEFONT, fontSize=17, color="black",
                                   align="left", baseline="middle", dx=7).encode(
        x=X, y=Y, text="t:N")
    layers = [lines, brace, txt] + legend_layers(lab) + (scale_bar_layers() if bottom else [])
    return alt.layer(*layers).properties(
        width=W, height=H,
        title=alt.Title(["Median QRS complex", f"Controls Vs {lab} patients"]))


rows = []
for i in range(3):
    rows.append(alt.hconcat(left_panel(i, i == 2), right_panel(i, i == 2), spacing=16)
                .resolve_scale(color="independent"))

chart = alt.vconcat(*rows, spacing=30).resolve_scale(color="independent").properties(
    padding={"left": 0, "top": -11, "right": 0, "bottom": 0}
).configure_view(stroke="#333", strokeWidth=1).configure_axis(
    labelFont=AXFONT, labelFontSize=11, labelColor="black", labelPadding=2,
    tickColor="#333", tickSize=4, tickWidth=1, domain=False, grid=False,
    titleFont=AXFONT, titleFontSize=13.5, titleFontWeight="normal", titleColor="black",
    titlePadding=3
).configure_title(
    font=AXFONT, fontSize=14, fontWeight="normal", color="black", offset=-4,
    anchor="middle"
)

chart.save("out.html", embed_options={"renderer": "svg", "actions": False})
